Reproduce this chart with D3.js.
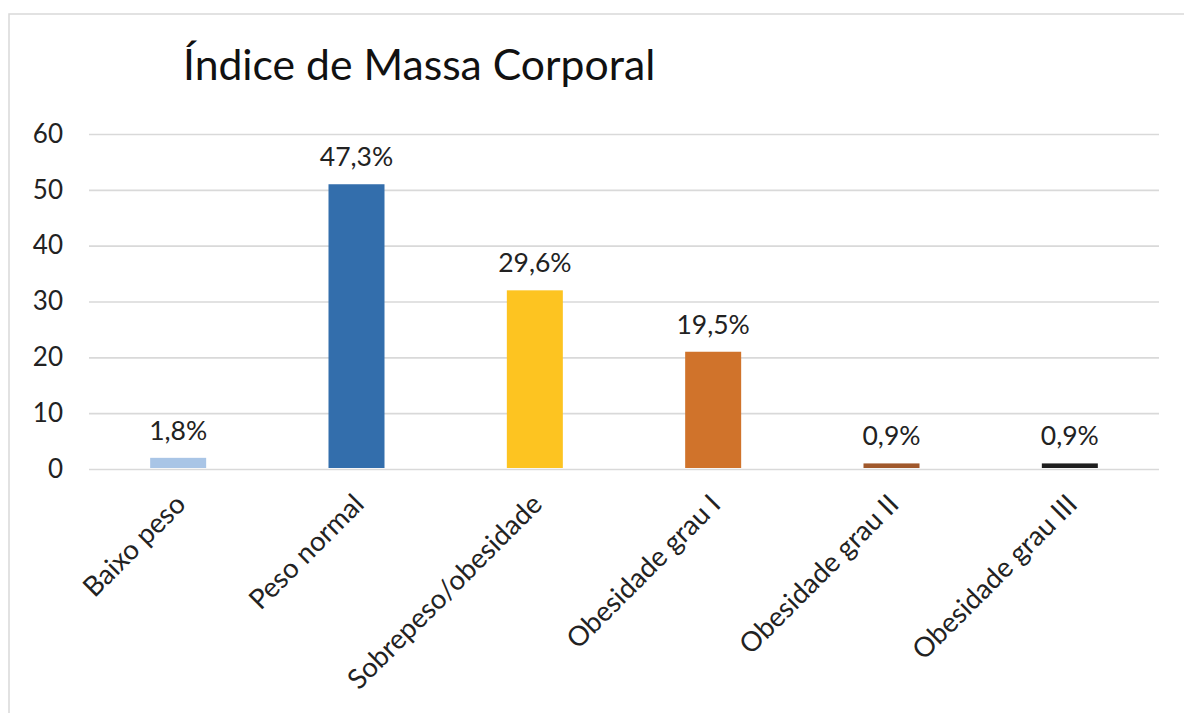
<!DOCTYPE html>
<html>
<head>
<meta charset="utf-8">
<script src="https://cdn.jsdelivr.net/npm/d3@7/dist/d3.min.js"></script>
<style>
  html, body { margin: 0; padding: 0; background: #fff; }
  svg { display: block; }
  text { font-family: Lato, "Open Sans", sans-serif; }
</style>
</head>
<body>
<svg id="chart" width="1184" height="713"></svg>
<script>
const title = "Índice de Massa Corporal";
const categories = ["Baixo peso", "Peso normal", "Sobrepeso/obesidade", "Obesidade grau I", "Obesidade grau II", "Obesidade grau III"];
const values = [2, 51, 32, 21, 1, 1];
const valueLabels = ["1,8%", "47,3%", "29,6%", "19,5%", "0,9%", "0,9%"];
const colors = ["#a9c5e6", "#336eac", "#fdc421", "#d0732b", "#a0582b", "#1e1e1e"];
const yTicks = [0, 10, 20, 30, 40, 50, 60];

const svg = d3.select("#chart");
svg.append("rect").attr("width", 1184).attr("height", 713).attr("fill", "#fff");

// outer frame (right/bottom edges fall outside the picture)
svg.append("rect")
  .attr("x", 9).attr("y", 14).attr("width", 1200).attr("height", 760)
  .attr("fill", "none").attr("stroke", "#d9d9d9").attr("stroke-width", 1.5);

const plot = { left: 89, right: 1159, top: 134, bottom: 469 };

const y = d3.scaleLinear().domain([0, 60]).range([plot.bottom, plot.top]);
const x = d3.scaleBand().domain(categories).range([plot.left, plot.right])
  .paddingInner(0.686).paddingOuter(0.343);

// title
svg.append("text")
  .attr("x", 183).attr("y", 80)
  .attr("font-size", 42.7).attr("fill", "#111")
  .text(title);

// gridlines + y labels via axis
const yAxis = d3.axisLeft(y).tickValues(yTicks).tickSize(-(plot.right - plot.left)).tickPadding(26);
const gy = svg.append("g").attr("transform", `translate(${plot.left},0)`).call(yAxis);
gy.select(".domain").remove();
gy.selectAll(".tick line").attr("stroke", "#d9d9d9").attr("stroke-width", 1.6);
gy.selectAll(".tick text")
  .attr("font-family", "Lato, sans-serif")
  .attr("font-size", 26).attr("fill", "#222");

// bars
svg.append("g").selectAll("rect").data(categories).join("rect")
  .attr("x", d => x(d))
  .attr("width", x.bandwidth())
  .attr("y", (d, i) => y(values[i]))
  .attr("height", (d, i) => y(0) - y(values[i]) - 1)
  .attr("fill", (d, i) => colors[i]);

// value labels
svg.append("g").selectAll("text").data(categories).join("text")
  .attr("x", d => x(d) + x.bandwidth() / 2)
  .attr("y", (d, i) => y(values[i]) - 18)
  .attr("text-anchor", "middle")
  .attr("font-size", 26.5).attr("fill", "#222")
  .text((d, i) => valueLabels[i]);

// category labels, rotated
const xAxis = d3.axisBottom(x).tickSize(0).tickPadding(0);
const gx = svg.append("g").attr("transform", `translate(0,${plot.bottom})`).call(xAxis);
gx.select(".domain").remove();
gx.selectAll(".tick text")
  .attr("font-family", "Lato, sans-serif")
  .attr("font-size", 27.5).attr("fill", "#222")
  .attr("text-anchor", "end")
  .attr("dy", null)
  .attr("y", null)
  .attr("transform", "translate(9,37) rotate(-45)");
</script>
</body>
</html>
